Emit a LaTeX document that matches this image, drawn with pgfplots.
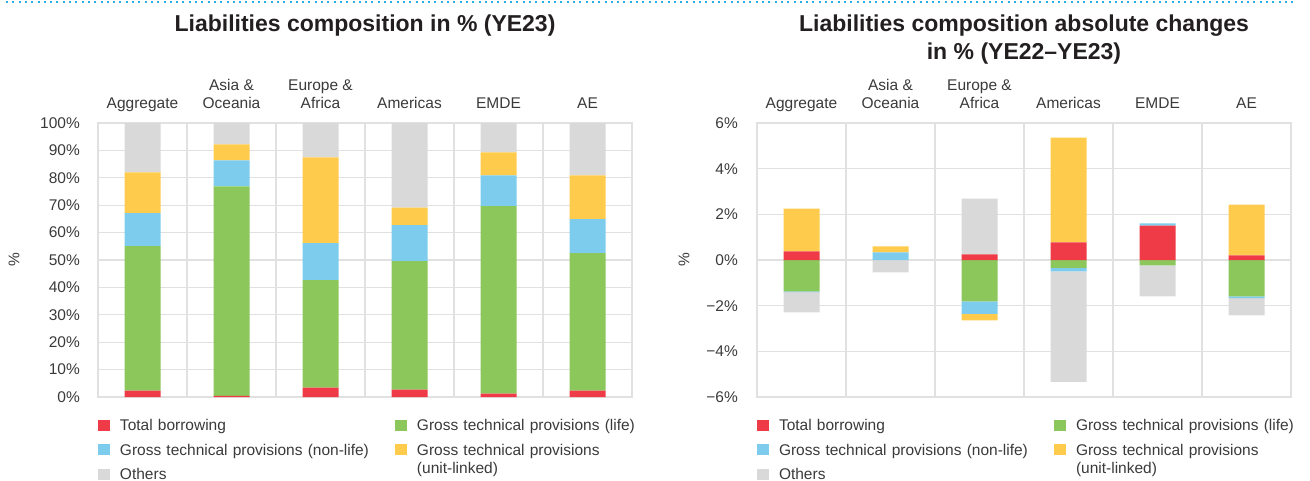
\documentclass[border=0pt]{standalone}
\usepackage{pgfplots}
\usepackage{pgfplotstable}
\pgfplotsset{compat=1.18}
\usepackage{fontspec}
\setmainfont{Liberation Sans}
\definecolor{cRed}{HTML}{EF3B47}
\definecolor{cGreen}{HTML}{8BC75A}
\definecolor{cBlue}{HTML}{7DCCEE}
\definecolor{cYellow}{HTML}{FFCB4D}
\definecolor{cGray}{HTML}{D9D9D9}
\definecolor{gridc}{HTML}{E1E1E1}
\definecolor{txtc}{HTML}{3A3A3A}
\definecolor{titlec}{HTML}{231F20}
\definecolor{dotc}{HTML}{2DADE6}
\newcommand\tfont{\fontsize{15.5}{18}\selectfont}
\newcommand\ttlfont{\fontsize{23}{28}\selectfont\bfseries}
\newcommand\cat[1]{\begin{tabular}[b]{@{}c@{}}#1\end{tabular}}

% Liabilities composition in % (YE23)
\pgfplotstableread{
x b l n u o
0 2.3 52.8 12.0 14.9 18.0
1 0.4 76.5 9.5 5.8 7.8
2 3.4 39.3 13.5 31.3 12.5
3 2.7 46.9 13.1 6.4 30.9
4 1.2 68.5 11.2 8.4 10.7
5 2.3 50.2 12.4 16.0 19.1
}\lefttab

% Absolute changes YE22-YE23 (positive and negative parts stack separately)
\pgfplotstableread{
x b l n u o
0 0.38 -1.37 -0.04 1.87 -0.88
1 0 0 0.33 0.27 -0.54
2 0.25 -1.81 -0.55 -0.28 2.44
3 0.77 -0.35 -0.15 4.59 -4.84
4 1.51 -0.23 0.09 0 -1.36
5 0.20 -1.59 -0.08 2.23 -0.75
}\righttab

\pgfplotsset{
  sq/.style={fill=#1, draw=none, legend image code/.code={\fill[#1] (0pt,0pt) rectangle (12pt,11pt);}},
  lc/.style={
    scale only axis, width=534pt, height=274pt, anchor=south west,
    xmin=-0.5, xmax=5.5, enlargelimits=false,
    xtick={0,1,2,3,4,5},
    xticklabel pos=upper,
    xticklabels={\cat{Aggregate},\cat{Asia \&\\Oceania},\cat{Europe \&\\Africa},\cat{Americas},\cat{EMDE},\cat{AE}},
    minor xtick={-0.5,0.5,1.5,2.5,3.5,4.5,5.5},
    xminorgrids=true, xmajorgrids=false, ymajorgrids=true,
    major tick length=0pt, minor tick length=0pt,
    tick style={draw=none},
    axis line style={draw=gridc, line width=1.2pt},
    major grid style={draw=gridc, line width=1.2pt},
    minor grid style={draw=gridc, line width=1.2pt},
    ybar stacked, bar width=36pt,
    tick label style={font=\tfont, text=txtc},
    xticklabel style={anchor=base, yshift=15pt, inner sep=0pt},
    legend columns=2,
    legend style={at={(0,0)}, anchor=north west, yshift=-20.5pt, draw=none, fill=none,
      inner sep=0pt, outer sep=0pt, font=\tfont, text=txtc, row sep=8pt,
      cells={anchor=base west, inner sep=0pt, outer sep=0pt, text height=11pt, text depth=3pt, text width=273pt},
      /tikz/every odd column/.append style={column sep=8pt}},
  },
}

\begin{document}
\begin{tikzpicture}
\path[use as bounding box] (0pt,0pt) rectangle (1310pt,-480pt);
\draw[dotc, line width=2pt, dash pattern=on 2pt off 4.3pt] (6pt,-2pt) -- (1296pt,-2pt);

\node[font=\ttlfont, text=titlec, anchor=base] at (365pt,-31.5pt) {Liabilities composition in \% (YE23)};
\node[font=\ttlfont, text=titlec, anchor=base] at (1024pt,-31.5pt) {Liabilities composition absolute changes};
\node[font=\ttlfont, text=titlec, anchor=base] at (1024pt,-59.5pt) {in \% (YE22–YE23)};
\node[font=\tfont, text=txtc, rotate=90] at (14pt,-260pt) {\%};
\node[font=\tfont, text=txtc, rotate=90] at (684pt,-260pt) {\%};

\begin{axis}[lc, at={(98pt,-397pt)},
  ymin=0, ymax=100, ytick={0,10,20,30,40,50,60,70,80,90,100},
  yticklabels={0\%,10\%,20\%,30\%,40\%,50\%,60\%,70\%,80\%,90\%,100\%},
  yticklabel style={anchor=east, inner sep=0pt, xshift=-18pt}]
\addplot[sq=cRed] table[x=x,y=b]{\lefttab}; \addlegendentry{Total borrowing}
\addplot[sq=cGreen] table[x=x,y=l]{\lefttab}; \addlegendentry{Gross technical provisions (life)}
\addplot[sq=cBlue] table[x=x,y=n]{\lefttab}; \addlegendentry{Gross technical provisions (non-life)}
\addplot[sq=cYellow] table[x=x,y=u]{\lefttab}; \addlegendentry{\raisebox{0pt}[\height][0pt]{\begin{tabular}[t]{@{}l@{}}Gross technical provisions\\(unit-linked)\end{tabular}}}
\addplot[sq=cGray] table[x=x,y=o]{\lefttab}; \addlegendentry{Others}
\end{axis}

\begin{axis}[lc, at={(757pt,-397pt)},
  ymin=-6, ymax=6, ytick={-6,-4,-2,0,2,4,6},
  yticklabels={−6\%,−4\%,−2\%,0\%,2\%,4\%,6\%},
  yticklabel style={anchor=east, inner sep=0pt, xshift=-19pt}]
\addplot[sq=cRed] table[x=x,y=b]{\righttab}; \addlegendentry{Total borrowing}
\addplot[sq=cGreen] table[x=x,y=l]{\righttab}; \addlegendentry{Gross technical provisions (life)}
\addplot[sq=cBlue] table[x=x,y=n]{\righttab}; \addlegendentry{Gross technical provisions (non-life)}
\addplot[sq=cYellow] table[x=x,y=u]{\righttab}; \addlegendentry{\raisebox{0pt}[\height][0pt]{\begin{tabular}[t]{@{}l@{}}Gross technical provisions\\(unit-linked)\end{tabular}}}
\addplot[sq=cGray] table[x=x,y=o]{\righttab}; \addlegendentry{Others}
\end{axis}
\end{tikzpicture}
\end{document}
